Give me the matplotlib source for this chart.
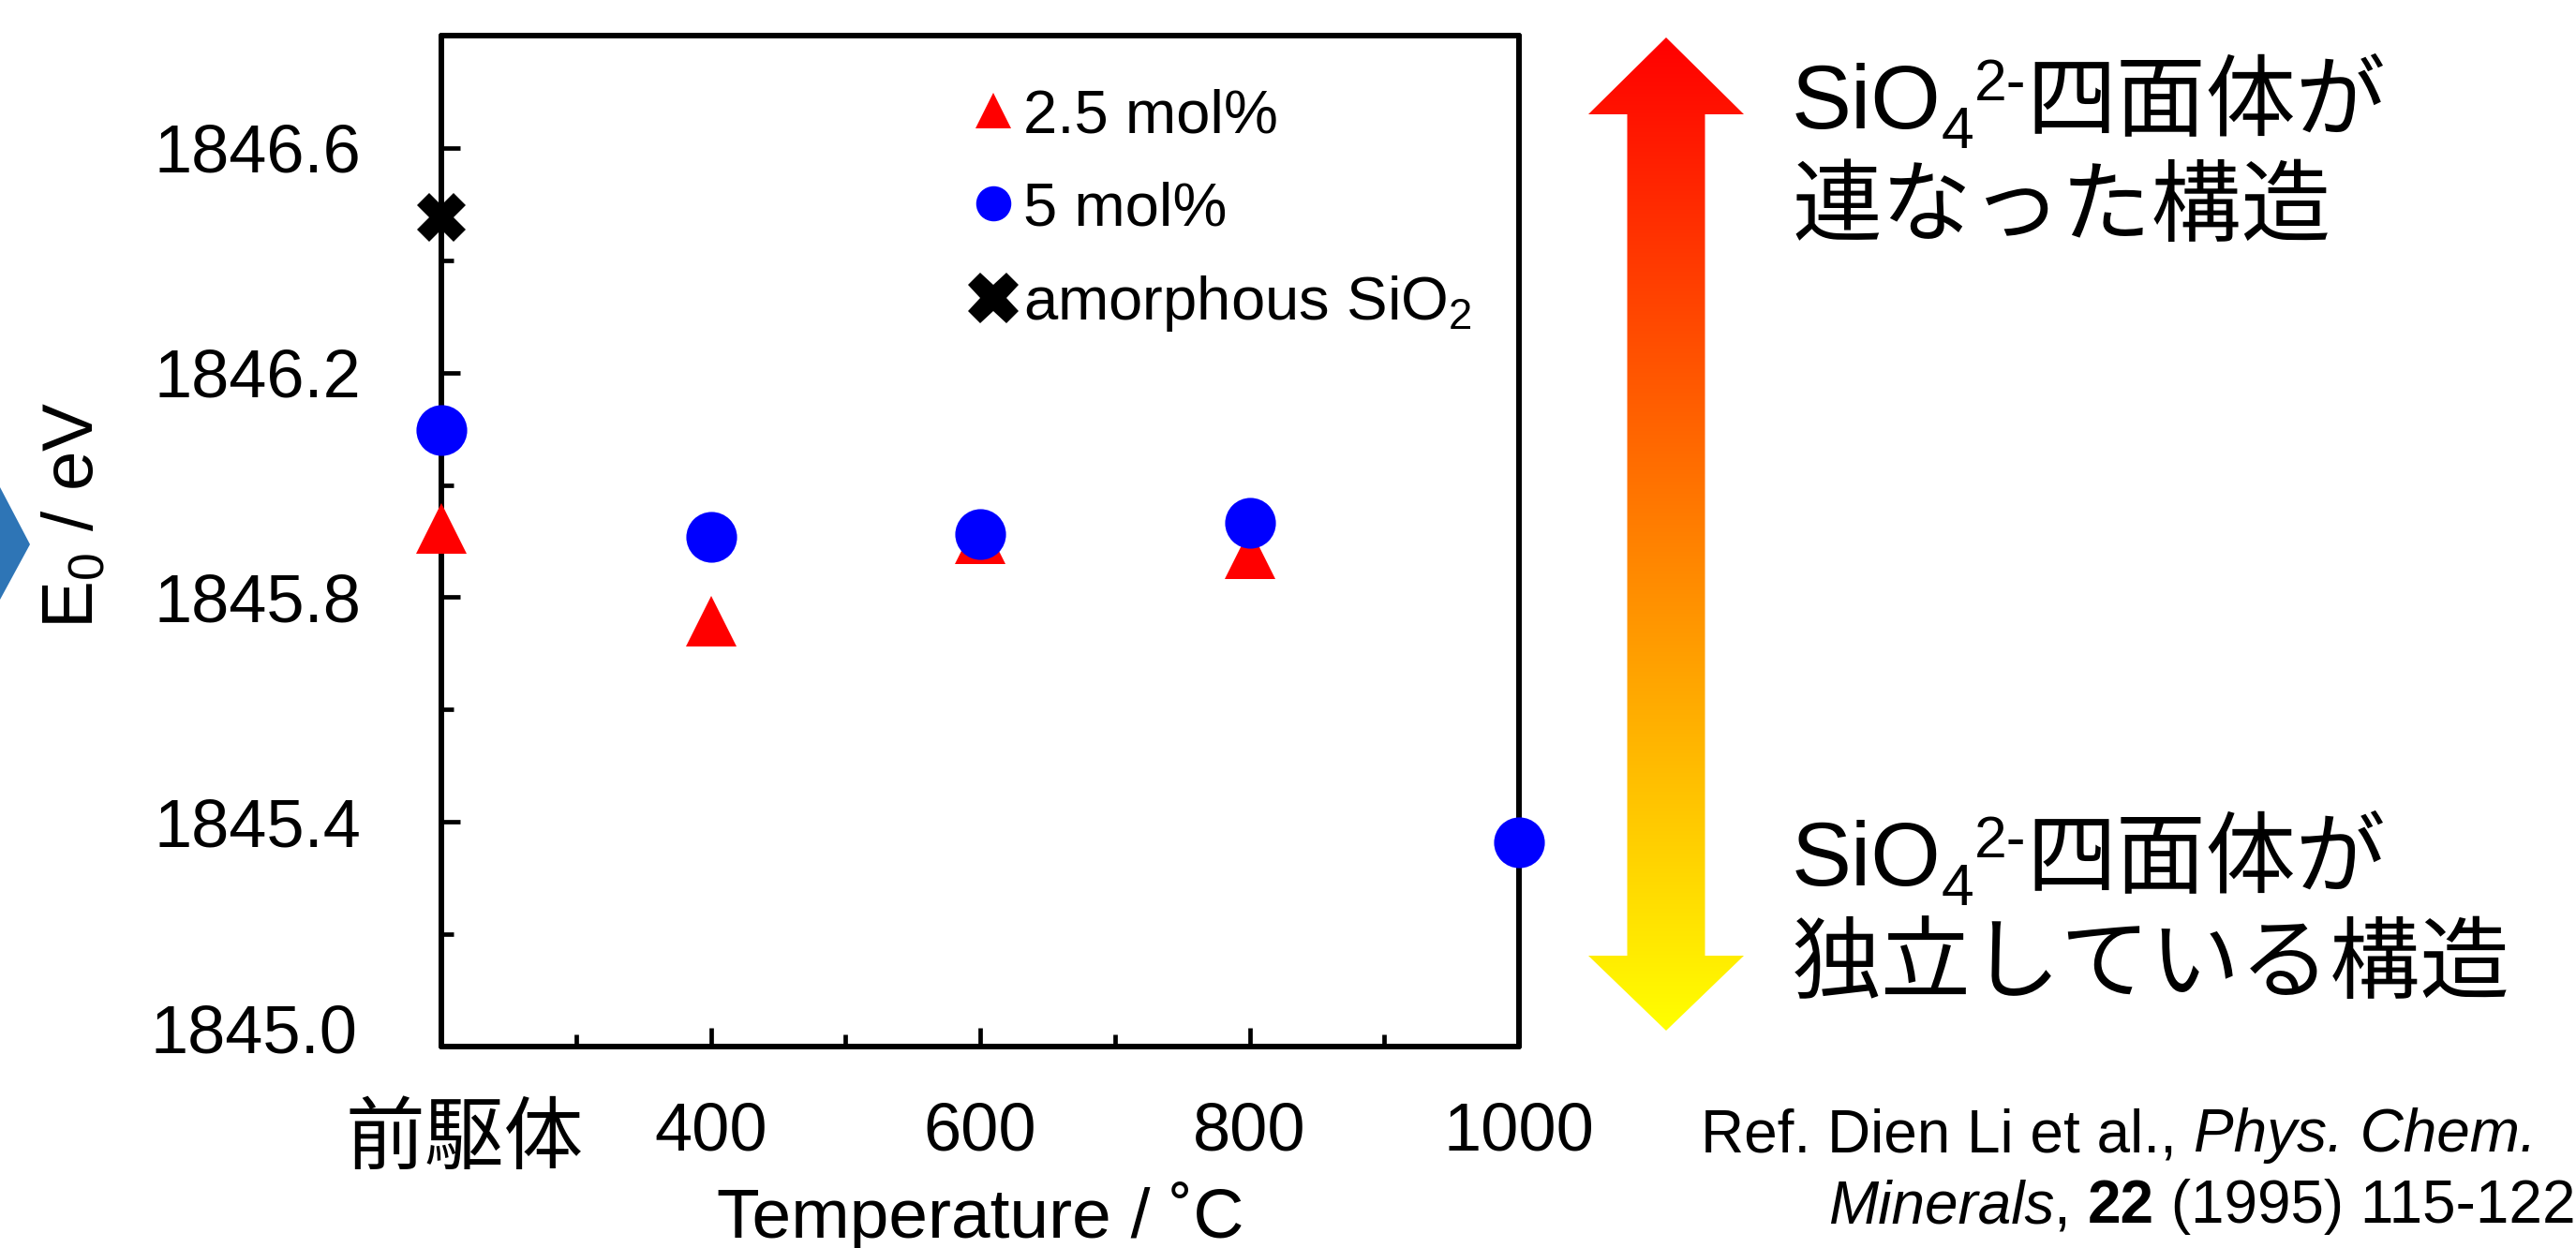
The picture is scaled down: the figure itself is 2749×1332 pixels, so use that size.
import numpy as np
import matplotlib
matplotlib.use('Agg')
import matplotlib.pyplot as plt
from matplotlib.lines import Line2D
from matplotlib.patches import Polygon
from matplotlib.ticker import MultipleLocator, FixedLocator, FormatStrFormatter
from matplotlib.transforms import Affine2D

plt.rcParams['font.family'] = ['Liberation Sans', 'Noto Sans CJK JP']
plt.rcParams['mathtext.fontset'] = 'custom'
plt.rcParams['mathtext.rm'] = 'Liberation Sans'
plt.rcParams['mathtext.it'] = 'Liberation Sans:italic'
plt.rcParams['mathtext.bf'] = 'Liberation Sans:bold'

# ---------------- data ----------------
temp_ticks = [200, 400, 600, 800, 1000]
temp_labels = ['前駆体', '400', '600', '800', '1000']
e0_ticks = [1845.0, 1845.4, 1845.8, 1846.2, 1846.6]
x_25 = [200, 400, 600, 800]
e0_25 = [1845.923, 1845.757, 1845.905, 1845.878]
x_5 = [200, 400, 600, 800, 1000]
e0_5 = [1846.097, 1845.907, 1845.912, 1845.933, 1845.363]
x_amor = [200]
e0_amor = [1846.476]
series_labels = ['2.5 mol%', '5 mol%', 'amorphous SiO$_2$']

W, H = 2749, 1332
fig = plt.figure(figsize=(W / 100, H / 100), dpi=100)

# overlay axes in pixel coordinates (y downward) for decorations
ov = fig.add_axes([0, 0, 1, 1], zorder=0)
ov.set_xlim(0, W)
ov.set_ylim(H, 0)
ov.axis('off')

ax = fig.add_axes([471 / W, 1 - 1117 / H, (1621 - 471) / W, (1117 - 38) / H], zorder=1)
ax.patch.set_alpha(0)

ax.plot(x_25, e0_25, ls='none', marker='^', ms=39, color='#FF0000', mew=0,
        zorder=3, clip_on=False)
ax.plot(x_5, e0_5, ls='none', marker='o', ms=39, color='#0000FF', mew=0,
        zorder=4, clip_on=False)
ax.plot(x_amor, e0_amor, ls='none', marker='X', ms=38, color='black', mew=0,
        zorder=5, clip_on=False)

ax.set_xlim(200, 1000)
ax.set_ylim(1845.0, 1846.8)
for s in ax.spines.values():
    s.set_linewidth(4.3)
    s.set_capstyle('round')

ax.set_xticks(temp_ticks, temp_labels)
ax.xaxis.set_minor_locator(MultipleLocator(100))
ax.yaxis.set_major_locator(FixedLocator(e0_ticks))
ax.yaxis.set_minor_locator(MultipleLocator(0.2))
ax.yaxis.set_major_formatter(FormatStrFormatter('%.1f'))

ax.tick_params(axis='both', which='both', direction='in', top=False, right=False,
               width=3.4, labelsize=52)
ax.tick_params(axis='both', which='major', length=14.4)
ax.tick_params(axis='both', which='minor', length=9.4)
ax.tick_params(axis='x', which='major', pad=42)
ax.tick_params(axis='y', which='major', pad=62)

lbl0 = ax.get_xticklabels()[0]
lbl0.set_fontsize(61)
lbl0.set_transform(lbl0.get_transform() + Affine2D().translate(25, -4))
ylbl0 = ax.get_yticklabels()[0]
ylbl0.set_transform(ylbl0.get_transform() + Affine2D().translate(-3, 19))

ax.set_ylabel('E$_0$ / eV', fontsize=55)
ax.yaxis.set_label_coords(80 / W, 1 - 550 / H, transform=fig.transFigure)
ax.yaxis.label.set_va('center')

ax.set_xlabel('Temperature / ˚C', fontsize=54)
ax.xaxis.set_label_coords(1046 / W, 1 - 1321 / H, transform=fig.transFigure)
ax.xaxis.label.set_va('baseline')

handles = [
    Line2D([], [], ls='none', marker='^', ms=27, color='#FF0000', mew=0),
    Line2D([], [], ls='none', marker='o', ms=27, color='#0000FF', mew=0),
    Line2D([], [], ls='none', marker='X', ms=39, color='black', mew=0),
]
ax.legend(handles, series_labels, loc='upper left',
          bbox_to_anchor=(1040 / W, 1 - 94 / H), bbox_transform=fig.transFigure,
          fontsize=47, frameon=False, handlelength=0.6, handletextpad=0.2,
          labelspacing=0.6, borderpad=0, borderaxespad=0)

# ---------------- decorations ----------------
# blue chevron tip at left edge
ov.add_patch(Polygon([(0, 520), (32, 581), (0, 640)], closed=True,
                     facecolor='#2E75B6', edgecolor='none'))

# gradient double arrow
cx, hw, sw = 1778, 83, 41.5
t_tip, t_base, b_base, b_tip = 40, 122, 1020, 1100
arrow_pts = [(cx, t_tip), (cx + hw, t_base), (cx + sw, t_base), (cx + sw, b_base),
             (cx + hw, b_base), (cx, b_tip), (cx - hw, b_base), (cx - sw, b_base),
             (cx - sw, t_base), (cx - hw, t_base)]
arrow = Polygon(arrow_pts, closed=True, facecolor='none', edgecolor='none')
ov.add_patch(arrow)
n = 256
g = np.linspace(0, 1, n)
grad = np.zeros((n, 1, 3))
grad[:, 0, 0] = 1.0
grad[:, 0, 1] = g
grad[:, 0, 2] = 0.0
im = ov.imshow(grad, extent=(cx - hw, cx + hw, b_tip, t_tip), origin='upper',
               aspect='auto', interpolation='bilinear')
im.set_clip_path(arrow)
ov.set_xlim(0, W)
ov.set_ylim(H, 0)

renderer = fig.canvas.get_renderer()


def rich(x, y, pieces):
    for piece in pieces:
        txt, size, dy = piece[:3]
        kw = piece[3] if len(piece) > 3 else {}
        t = ov.text(x, y + dy, txt, fontsize=size, va='baseline', ha='left', **kw)
        x += t.get_window_extent(renderer).width


big = 69
sub = 45
rich(1912, 137, [('SiO', big, 0), ('4', sub, 21), ('2-', sub, -30), ('四面体が', big, 0)])
rich(1912, 250, [('連なった構造', big, 0)])
rich(1912, 945, [('SiO', big, 0), ('4', sub, 21), ('2-', sub, -30), ('四面体が', big, 0)])
rich(1912, 1058, [('独立している構造', big, 0)])

ref_size = 46
rich(1815, 1229, [('Ref. Dien Li et al., ', ref_size, 0),
                  ('Phys. Chem.', ref_size, 0, {'fontstyle': 'italic'})])
rich(1951, 1305, [('Minerals', ref_size, 0, {'fontstyle': 'italic'}),
                  (', ', ref_size, 0),
                  ('22', ref_size, 0, {'fontweight': 'bold'}),
                  (' (1995) 115-122', ref_size, 0)])

fig.savefig('out.png', dpi=100)
